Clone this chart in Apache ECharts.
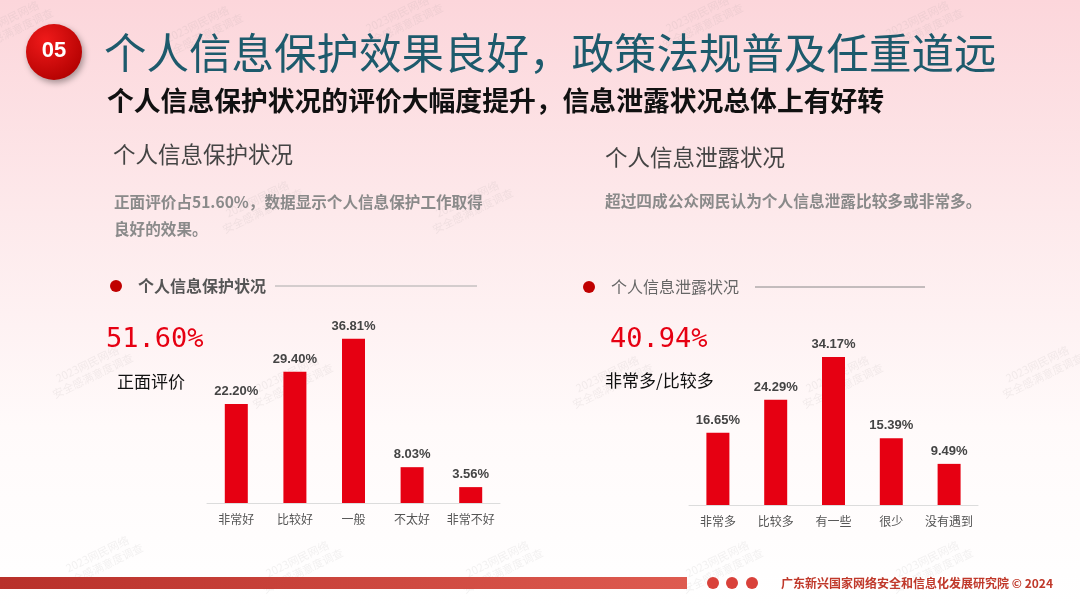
<!DOCTYPE html>
<html><head><meta charset="utf-8">
<script src="https://cdn.jsdelivr.net/npm/echarts@6/dist/echarts.min.js"></script>
<style>html,body{margin:0;padding:0;}#c{width:1080px;height:608px;}</style>
</head><body><div id="c"></div>
<script>
const protectCats = ['非常好','比较好','一般','不太好','非常不好'];
const protectVals = [22.20, 29.40, 36.81, 8.03, 3.56];
const leakCats = ['非常多','比较多','有一些','很少','没有遇到'];
const leakVals = [16.65, 24.29, 34.17, 15.39, 9.49];
const protectHeadline = '51.60%';
const leakHeadline = '40.94%';

const CJK = '"Noto Sans CJK SC","Noto Sans",sans-serif';
const chart = echarts.init(document.getElementById('c'));

function txt(x, y, text, size, color, weight, font) {
  return {type:'text', x:x, y:y, z:10, style:{text:text, fontSize:size, fill:color, fontWeight:weight||'normal', fontFamily:font||CJK, textVerticalAlign:'middle'}};
}
const wm = [];
[[10,25],[200,30],[400,20],[700,20],[920,25],[260,205],[470,205],[90,370],[290,380],[610,380],[840,380],[1040,370],[100,560],[300,565],[500,565],[720,565],[930,565]].forEach(p=>{
  wm.push({type:'text', x:p[0], y:p[1], rotation:Math.PI/7, z:0,
    style:{text:'2023网民网络\n安全感满意度调查', fontSize:11, lineHeight:13, fill:'rgba(150,150,150,0.12)', fontFamily:CJK, textAlign:'center', textVerticalAlign:'middle'}});
});

const labelStyle = {show:true, position:'top', distance:6, fontSize:13, fontWeight:'bold', color:'#444', fontFamily:'"Liberation Sans",Arial,sans-serif', formatter:p=>p.value.toFixed(2)+'%'};
const catLabel = {color:'#555', fontSize:12, margin:10, interval:0, fontFamily:CJK};

chart.setOption({
  backgroundColor:{type:'linear', x:0, y:0, x2:0, y2:1, colorStops:[{offset:0,color:'#fcd6db'},{offset:0.35,color:'#fde9eb'},{offset:0.7,color:'#fffafa'},{offset:1,color:'#ffffff'}]},
  animation:false,
  grid:[
    {left:207, width:293, top:300, bottom:105},
    {left:689, width:289, top:300, bottom:103}
  ],
  xAxis:[
    {type:'category', gridIndex:0, data:protectCats, axisTick:{show:false}, axisLine:{lineStyle:{color:'#dcdcdc', width:1}}, axisLabel:catLabel},
    {type:'category', gridIndex:1, data:leakCats, axisTick:{show:false}, axisLine:{lineStyle:{color:'#dcdcdc', width:1}}, axisLabel:catLabel}
  ],
  yAxis:[
    {type:'value', gridIndex:0, min:0, max:45.5, show:false, splitLine:{show:false}},
    {type:'value', gridIndex:1, min:0, max:47.3, show:false, splitLine:{show:false}}
  ],
  series:[
    {type:'bar', xAxisIndex:0, yAxisIndex:0, data:protectVals, barWidth:23, itemStyle:{color:'#e60012'}, label:labelStyle},
    {type:'bar', xAxisIndex:1, yAxisIndex:1, data:leakVals, barWidth:23, itemStyle:{color:'#e60012'}, label:labelStyle}
  ],
  graphic: wm.concat([
    {type:'circle', z:10, shape:{cx:54, cy:52, r:28}, style:{fill:{type:'radial', x:0.35, y:0.3, r:0.8, colorStops:[{offset:0,color:'#f01a1a'},{offset:1,color:'#b00000'}]}, shadowBlur:6, shadowColor:'rgba(0,0,0,0.35)', shadowOffsetX:2, shadowOffsetY:3}},
    {type:'text', z:11, x:54, y:51, style:{text:'05', fontSize:22, fontWeight:'bold', fill:'#fff', fontFamily:'"Liberation Sans",Arial,sans-serif', textAlign:'center', textVerticalAlign:'middle'}},
    txt(104, 53, '个人信息保护效果良好，政策法规普及任重道远', 42.5, '#1d5a6c'),
    txt(107, 101, '个人信息保护状况的评价大幅度提升，信息泄露状况总体上有好转', 26.8, '#111', 'bold'),
    txt(113, 154, '个人信息保护状况', 22.5, '#444'),
    txt(114, 202, '正面评价占51.60%，数据显示个人信息保护工作取得', 15.6, '#8a8a8a', 'bold'),
    txt(114, 229, '良好的效果。', 15.6, '#8a8a8a', 'bold'),
    {type:'circle', z:10, shape:{cx:116, cy:286, r:6}, style:{fill:'#c00000'}},
    txt(138, 286, '个人信息保护状况', 16, '#555', 'bold'),
    {type:'line', z:10, shape:{x1:275, y1:286, x2:477, y2:286}, style:{stroke:'#aaa', lineWidth:1}},
    txt(106, 340, protectHeadline, 27, '#e60012', 'normal', '"DejaVu Sans Mono",monospace'),
    txt(117, 382, '正面评价', 17, '#111'),
    txt(605, 157, '个人信息泄露状况', 22.5, '#444'),
    txt(605, 201, '超过四成公众网民认为个人信息泄露比较多或非常多。', 15.7, '#8a8a8a', 'bold'),
    {type:'circle', z:10, shape:{cx:589, cy:287, r:6}, style:{fill:'#c00000'}},
    txt(611, 287, '个人信息泄露状况', 16, '#666'),
    {type:'line', z:10, shape:{x1:755, y1:287, x2:925, y2:287}, style:{stroke:'#888', lineWidth:1}},
    txt(610, 340, leakHeadline, 27, '#e60012', 'normal', '"DejaVu Sans Mono",monospace'),
    txt(605, 381, '非常多/比较多', 17, '#111'),
    {type:'rect', z:10, shape:{x:0, y:577, width:687, height:12}, style:{fill:{type:'linear', x:0, y:0, x2:1, y2:0, colorStops:[{offset:0,color:'#b8302a'},{offset:1,color:'#de5b50'}]}}},
    {type:'circle', z:10, shape:{cx:713, cy:583, r:6}, style:{fill:'#d9413a'}},
    {type:'circle', z:10, shape:{cx:732, cy:583, r:6}, style:{fill:'#d9413a'}},
    {type:'circle', z:10, shape:{cx:752, cy:583, r:6}, style:{fill:'#d9413a'}},
    txt(781, 583, '广东新兴国家网络安全和信息化发展研究院 © 2024', 12, '#c0392b', 'bold')
  ])
});
</script></body></html>
